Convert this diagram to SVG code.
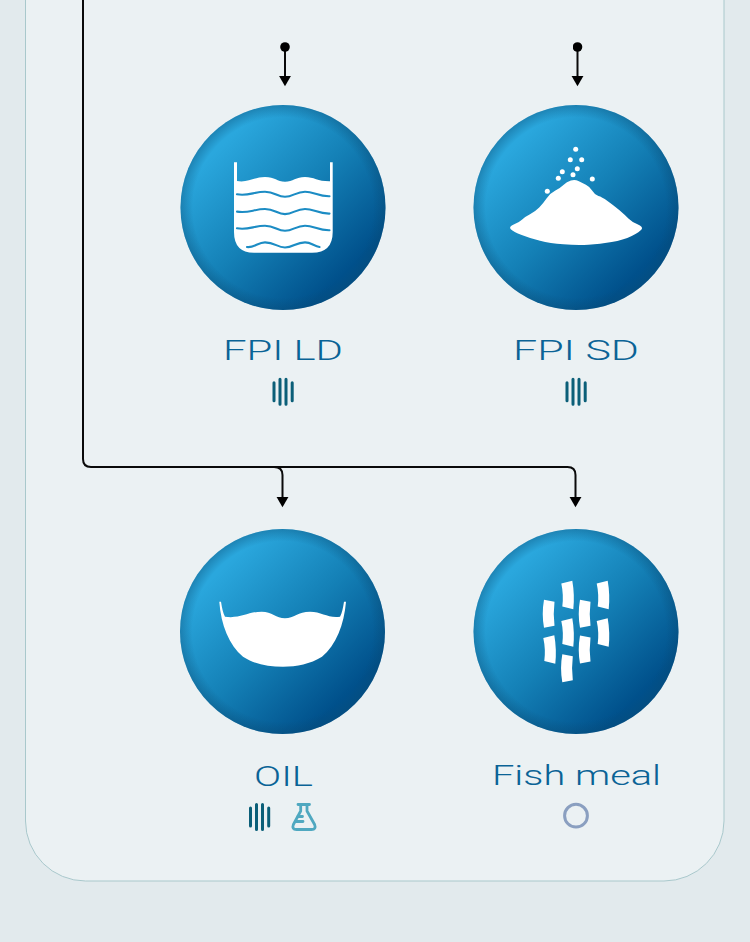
<svg xmlns="http://www.w3.org/2000/svg" xmlns:xlink="http://www.w3.org/1999/xlink" width="750" height="942" viewBox="0 0 750 942">
<style>
.lbl{font-family:"Roboto","Liberation Sans",Arial,sans-serif;font-weight:300;font-size:28px;fill:#0a6396;text-anchor:start}
.conn{fill:none;stroke:#0a0a0a;stroke-width:2;stroke-linejoin:round}
.vib{fill:none;stroke:#0b5f78;stroke-width:3;stroke-linecap:round}
.wave{fill:none;stroke:#1c8cc4;stroke-width:2.1;stroke-linecap:round}
.ico{fill:#fff}
</style>
<defs>
<linearGradient id="ball" x1="0.2" y1="0.2" x2="0.8" y2="0.82">
<stop offset="0" stop-color="#2aa7dd"/>
<stop offset="0.5" stop-color="#1480b6"/>
<stop offset="1" stop-color="#00508b"/>
</linearGradient>
<radialGradient id="rim" cx="0.5" cy="0.5" r="0.5">
<stop offset="0.88" stop-color="#0a4a72" stop-opacity="0"/>
<stop offset="1" stop-color="#0a4a72" stop-opacity="0.38"/>
</radialGradient>
<marker id="head" markerUnits="userSpaceOnUse" markerWidth="11" markerHeight="13" refX="0.5" refY="6.5" orient="auto" viewBox="0 0 11 13">
<path d="M0 0.3L10.7 6.5L0 12.7Z" fill="#000"/>
</marker>
<marker id="dot" markerUnits="userSpaceOnUse" markerWidth="10" markerHeight="10" refX="5" refY="5" orient="auto" viewBox="0 0 10 10">
<circle cx="5" cy="5" r="4.8" fill="#000"/>
</marker>
<g id="ballShape">
<circle r="102.5" fill="url(#ball)"/>
<circle r="102.5" fill="url(#rim)"/>
</g>
<path id="vibIcon" d="M-9 -9V9M-3 -12.5V12.5M3 -12.5V12.5M9.2 -9V9"/>
<path id="wl" d="M237 194.3C248 196.5 254 191.7 265 191.7C275 191.7 277 196.8 285 196.8C293 196.8 296 191.7 305 191.7C314 191.7 318 196.5 329.5 196.3"/>
<path id="p1" d="M-6 -11.5L5 -14.3Q7.5 0 6 14.3L-5 11.5Q-3.5 0 -6 -11.5Z"/>
<path id="p2" d="M-5 -14L5.5 -12Q4 0 5.5 12L-5 14Q-7.5 0 -5 -14Z"/>
</defs>
<rect id="background" width="750" height="942" fill="#e2eaed"/>
<rect id="panel" x="25.5" y="-100" width="698.5" height="981" rx="60" ry="60" fill="#ebf1f3" stroke="#a9c8cc" stroke-width="1"/>
<g id="connectors">
<path class="conn" d="M83 0V459Q83 467 91 467H567.5Q575.5 467 575.5 475V497" marker-end="url(#head)"/>
<path class="conn" d="M274 467Q282.5 467 282.5 475V497" marker-end="url(#head)"/>
<path class="conn" d="M285 47V76" marker-start="url(#dot)" marker-end="url(#head)"/>
<path class="conn" d="M577.5 47V76" marker-start="url(#dot)" marker-end="url(#head)"/>
</g>
<g id="node-fpi-ld">
<use xlink:href="#ballShape" href="#ballShape" transform="translate(283 207.5)"/>
<path class="ico" d="M234 162.3H237V181C248 183 254 177 265 177C275 177 277 181.7 285 181.7C293 181.7 296 177 305 177C314 177 318 181.5 330 181.3V162.3H332.7V232Q332.7 252.7 312 252.7H254Q234 252.7 234 232Z"/>
<use class="wave" xlink:href="#wl" href="#wl"/>
<use class="wave" xlink:href="#wl" href="#wl" transform="translate(0 17.3)"/>
<use class="wave" xlink:href="#wl" href="#wl" transform="translate(0 34)"/>
<path class="wave" d="M247 247C254 248 258 242.4 265 242.4C275 242.4 277 247.5 285 247.5C293 247.5 296 242.4 305 242.4C311 242.4 314 246 319.5 247"/>
<text class="lbl" x="223" y="360" textLength="120" lengthAdjust="spacingAndGlyphs">FPI LD</text>
<use class="vib" xlink:href="#vibIcon" href="#vibIcon" transform="translate(283 391.7)"/>
</g>
<g id="node-fpi-sd">
<use xlink:href="#ballShape" href="#ballShape" transform="translate(576 207.5)"/>
<path class="ico" d="M514.2 224.2Q520 221.7 522.5 219.2Q525 216.7 530 214.2Q535 211.7 539.2 207.5Q543.3 203.3 546.7 198.3Q550 193.3 555 190.8Q560 188.3 563.4 185Q566.7 181.7 570.9 180.5Q575 179.3 578.4 181Q581.7 182.7 585.9 184.7Q590 186.7 592.5 190.9Q595 195 598.4 195.9Q601.7 196.7 607.5 200.9Q613.3 205 619.2 210Q625 215 628.4 218.4Q631.7 221.7 637.5 224.2Q643.3 226.7 641.7 229.2Q640 231.7 631.7 235.9Q623.3 240 611.7 242Q600 244 588.4 244.7Q576.7 245.3 563.4 244.3Q550 243.3 540 240.8Q530 238.3 521.7 235Q513.3 231.7 510.8 229.2Q508.3 226.7 514.2 224.2Z"/>
<g class="ico">
<circle cx="575.7" cy="149.3" r="2.5"/><circle cx="570.3" cy="159.7" r="2.5"/><circle cx="581.7" cy="159.7" r="2.5"/><circle cx="577.3" cy="168.7" r="2.5"/><circle cx="562.3" cy="171.7" r="2.5"/><circle cx="573" cy="174.7" r="2.5"/><circle cx="558.3" cy="178.3" r="2.5"/><circle cx="592.3" cy="179" r="2.5"/><circle cx="547.3" cy="191.3" r="2.5"/>
</g>
<text class="lbl" x="513" y="360" textLength="126" lengthAdjust="spacingAndGlyphs">FPI SD</text>
<use class="vib" xlink:href="#vibIcon" href="#vibIcon" transform="translate(576 391.7)"/>
</g>
<g id="node-oil">
<use xlink:href="#ballShape" href="#ballShape" transform="translate(282.5 631.5)"/>
<path class="ico" d="M219.3 601.7H221C222 608 223 613 225 616.7C240 619 248 611.7 261.7 611.7C272 611.7 276 618.3 285 618.3C294 618.3 298 611.7 310 611.7C322 611.7 328 618.5 340 616.7C342 613 343 608 344 601.7H346C344 625 336 645 322 656.7C310 664 297 666.7 283 666.7C268 666.7 254 664 243 656.7C229 645 221 625 219.3 601.7Z"/>
<text class="lbl" x="254" y="786" textLength="59" lengthAdjust="spacingAndGlyphs">OIL</text>
<use class="vib" xlink:href="#vibIcon" href="#vibIcon" transform="translate(259.5 817)"/>
<g id="flask" fill="none" stroke="#4fa8c0" stroke-width="2.8" stroke-linecap="round" stroke-linejoin="round">
<path d="M298 804.5H309.5M300.7 804.5V811L293.4 824.5Q291.5 829.5 296.5 829.5H311.5Q316.5 829.5 314.6 824.5L307 811V804.5"/>
<path d="M298 816.5H302.5M296 821.5H303"/>
</g>
</g>
<g id="node-fish-meal">
<use xlink:href="#ballShape" href="#ballShape" transform="translate(576 631.5)"/>
<g class="ico">
<use xlink:href="#p1" href="#p1" x="567.3" y="595"/>
<use xlink:href="#p1" href="#p1" x="602.7" y="595"/>
<use xlink:href="#p2" href="#p2" x="549" y="613.8"/>
<use xlink:href="#p2" href="#p2" x="585" y="613.8"/>
<use xlink:href="#p1" href="#p1" x="567.3" y="632.5"/>
<use xlink:href="#p1" href="#p1" x="602.7" y="632.5"/>
<use xlink:href="#p1" href="#p1" x="549.3" y="649.5"/>
<use xlink:href="#p2" href="#p2" x="585" y="649.5"/>
<use xlink:href="#p2" href="#p2" x="567.3" y="668.3"/>
</g>
<text class="lbl" x="492" y="785" textLength="169" lengthAdjust="spacingAndGlyphs">Fish meal</text>
<circle cx="576" cy="815.7" r="11.4" fill="none" stroke="#8a9fc0" stroke-width="3"/>
</g>
</svg>
